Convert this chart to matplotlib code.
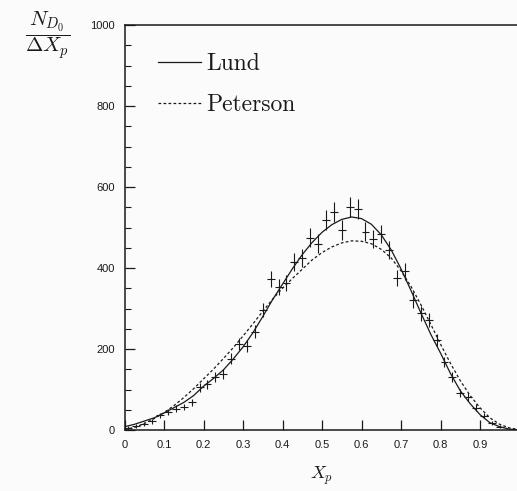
import matplotlib
matplotlib.use("Agg")
import matplotlib.pyplot as plt
import numpy as np

# Measured D0 spectrum: bin centres, counts per unit Xp, and uncertainties
xp_centres = [0.01, 0.03, 0.05, 0.07, 0.09, 0.11, 0.13, 0.15, 0.17, 0.19,
              0.21, 0.23, 0.25, 0.27, 0.29, 0.31, 0.33, 0.35, 0.37, 0.39,
              0.41, 0.43, 0.45, 0.47, 0.49, 0.51, 0.53, 0.55, 0.57, 0.59,
              0.61, 0.63, 0.65, 0.67, 0.69, 0.71, 0.73, 0.75, 0.77, 0.79,
              0.81, 0.83, 0.85, 0.87, 0.89, 0.91, 0.93, 0.95]
counts = [5, 10, 15, 22, 36, 44, 53, 57, 68, 105,
          113, 131, 138, 176, 212, 207, 243, 296, 372, 353,
          363, 415, 424, 475, 460, 518, 538, 494, 551, 545,
          490, 472, 484, 444, 375, 392, 321, 288, 272, 222,
          168, 130, 91, 82, 55, 35, 18, 8]
count_err = [4, 5, 5, 6, 7, 7, 8, 8, 9, 11,
             11, 12, 12, 14, 15, 15, 16, 18, 20, 20,
             20, 22, 22, 23, 23, 25, 25, 24, 25, 25,
             24, 23, 23, 22, 20, 21, 19, 18, 17, 15,
             13, 12, 10, 10, 8, 6, 5, 4]
bin_half_width = 0.01

# Fragmentation-model curves, tabulated in Xp
xp_curve = [0.000, 0.025, 0.050, 0.075, 0.100, 0.125, 0.150, 0.175, 0.200,
            0.225, 0.250, 0.275, 0.300, 0.325, 0.350, 0.375, 0.400, 0.425,
            0.450, 0.475, 0.500, 0.525, 0.550, 0.575, 0.600, 0.625, 0.650,
            0.675, 0.700, 0.725, 0.750, 0.775, 0.800, 0.825, 0.850, 0.875,
            0.900, 0.925, 0.950, 0.975, 1.000]
lund = [8, 14, 22, 30, 42, 55, 68, 85, 108,
        127, 148, 175, 205, 240, 280, 322, 360, 398,
        433, 463, 488, 507, 520, 526, 522, 508, 482,
        445, 398, 345, 290, 237, 190, 140, 97, 65,
        38, 18, 8, 2, 0]
peterson = [2, 6, 16, 28, 43, 60, 80, 102, 126,
            150, 176, 203, 232, 262, 293, 323, 350, 374,
            397, 420, 438, 452, 462, 467, 466, 460, 446,
            425, 393, 355, 310, 262, 212, 165, 122, 85,
            55, 30, 14, 5, 1]

x_ticks = [0, 0.1, 0.2, 0.3, 0.4, 0.5, 0.6, 0.7, 0.8, 0.9]
x_tick_labels = ["0", "0.1", "0.2", "0.3", "0.4", "0.5", "0.6", "0.7", "0.8", "0.9"]
y_ticks = [0, 200, 400, 600, 800, 1000]

plt.rcParams["mathtext.fontset"] = "cm"
ink = "#1a1a1a"

fig = plt.figure(figsize=(5.17, 4.91), dpi=100)
fig.patch.set_facecolor("#fbfbfb")
ax = fig.add_axes([124.5 / 517, 61 / 491, 395 / 517, 405 / 491])
ax.set_facecolor("none")

ax.plot(xp_curve, lund, color=ink, lw=0.9, label="Lund")
ax.plot(xp_curve, peterson, color=ink, lw=0.9, linestyle=(0, (2.2, 1.8)),
        label="Peterson")
ax.errorbar(xp_centres, counts, yerr=count_err, xerr=bin_half_width,
            fmt="none", ecolor=ink, elinewidth=0.8, capsize=0)

ax.set_xlim(0, 1.0)
ax.set_ylim(0, 1000)
ax.set_xticks(x_ticks)
ax.set_xticklabels(x_tick_labels)
ax.set_yticks(y_ticks)
ax.set_yticks(np.arange(0, 1001, 50), minor=True)
ax.tick_params(axis="both", which="both", direction="in", colors=ink,
               labelsize=8, top=False, right=False)
ax.tick_params(axis="both", which="major", length=7, width=0.9)
ax.tick_params(axis="y", which="minor", length=4, width=0.8)
ax.tick_params(axis="x", which="minor", length=0)
ax.tick_params(axis="y", pad=7)
ax.tick_params(axis="x", pad=7)
for lab in ax.get_xticklabels() + ax.get_yticklabels():
    lab.set_family("Liberation Sans")
for side in ("left", "bottom", "top", "right"):
    ax.spines[side].set_color(ink)
    ax.spines[side].set_linewidth(1.1)

fig.text(48 / 517, 1 - 35 / 491, r"$\dfrac{N_{D_0}}{\Delta X_p}$",
         fontsize=15, ha="center", va="center", color=ink)
fig.text(322 / 517, 1 - 476 / 491, r"$X_p$", fontsize=13,
         ha="center", va="center", color=ink)

ax.legend(loc="upper left", bbox_to_anchor=(0.06, 0.955), frameon=False,
          prop={"family": "cmr10", "size": 17}, handlelength=1.85,
          handletextpad=0.2, labelspacing=0.8, borderaxespad=0,
          labelcolor=ink)

fig.savefig("out.png", dpi=100, facecolor=fig.get_facecolor())
